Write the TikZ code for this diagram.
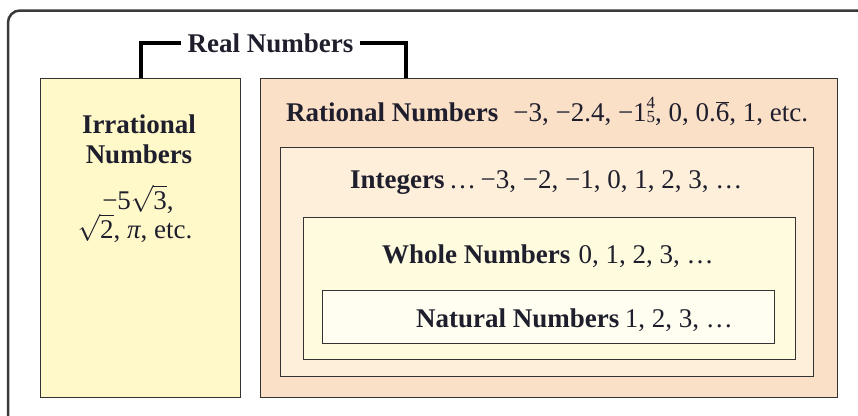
\documentclass[tikz,border=0pt]{standalone}
\usepackage{fix-cm}
\usepackage{fontspec}
\setmainfont{Liberation Serif}
\definecolor{frame}{HTML}{3A3A3A}
\definecolor{boxline}{HTML}{333333}
\definecolor{txt}{HTML}{1E1E2C}
\definecolor{irrfill}{HTML}{FFF8C8}
\definecolor{ratfill}{HTML}{FBE0C8}
\definecolor{intfill}{HTML}{FDEFD9}
\definecolor{whofill}{HTML}{FFFBDF}
\definecolor{natfill}{HTML}{FFFEF1}
\newcommand\myfrac[2]{\raisebox{-1.5pt}{\fontsize{17}{13}\selectfont\shortstack[c]{#1\\#2}}}
\newcommand\myrep[1]{$\overline{\hbox{#1}}$}
\newcommand\myroot[1]{$\sqrt{\hbox{#1}}$}
\begin{document}
\begin{tikzpicture}[x=1pt,y=-1pt,
  numbox/.style={draw=boxline, line width=1.3pt, inner sep=0pt, anchor=north west},
  lbl/.style={inner sep=0pt, text=txt, anchor=base west, font=\fontsize{27}{32}\selectfont},
  clbl/.style={inner sep=0pt, text=txt, anchor=base, font=\fontsize{27}{32}\selectfont},
  brk/.style={line width=4pt, black, line join=miter}]
\useasboundingbox (0,0) rectangle (858,415);
% outer frame
\coordinate (fbl) at (8,416);
\coordinate (ftl) at (8,10.5);
\coordinate (ftr) at (859,10.5);
\draw[frame, line width=2.5pt, rounded corners=12pt] (fbl) -- (ftl) -- (ftr);
% boxes
\node[numbox, fill=irrfill, minimum width=200pt, minimum height=319pt] (irrbox) at (40,78) {};
\node[numbox, fill=ratfill, minimum width=577pt, minimum height=319pt] (ratbox) at (260,78) {};
\node[numbox, fill=intfill, minimum width=533pt, minimum height=229pt] (intbox) at (280,147) {};
\node[numbox, fill=whofill, minimum width=492pt, minimum height=142pt] (whobox) at (303,217) {};
\node[numbox, fill=natfill, minimum width=452pt, minimum height=53pt] (natbox) at (322,290) {};
% Real numbers label and bracket
\node[clbl, inner xsep=6pt] (real) at (270.5,52) {\textbf{Real Numbers}};
\coordinate (rbtop) at (406,78);
\draw[brk] (irrbox.north) |- (real.west);
\draw[brk] (real.east) -| (rbtop);
% irrational text
\node[clbl] (irr1) at (139,133) {\textbf{Irrational}};
\node[clbl] (irr2) at (139,163) {\textbf{Numbers}};
\node[clbl] (irr3) at (138,209) {−5\myroot{3},};
\node[clbl] (irr4) at (135,238) {\myroot{2}, \textit{π}, etc.};
% rational etc.
\node[lbl] (rat) at (286,121) {\textbf{Rational Numbers}\hspace{0.55em}−3, −2.4, −1\myfrac{4}{5}, 0, 0.\myrep{6}, 1, etc.};
\node[lbl] (int) at (350,188) {\textbf{Integers}\,…\,−3, −2, −1, 0, 1, 2, 3, …};
\node[lbl] (who) at (382,263) {\textbf{Whole Numbers}\hspace{0.3em}0, 1, 2, 3, …};
\node[lbl] (nat) at (416,327) {\textbf{Natural Numbers}\hspace{0.2em}1, 2, 3, …};
\end{tikzpicture}
\end{document}
